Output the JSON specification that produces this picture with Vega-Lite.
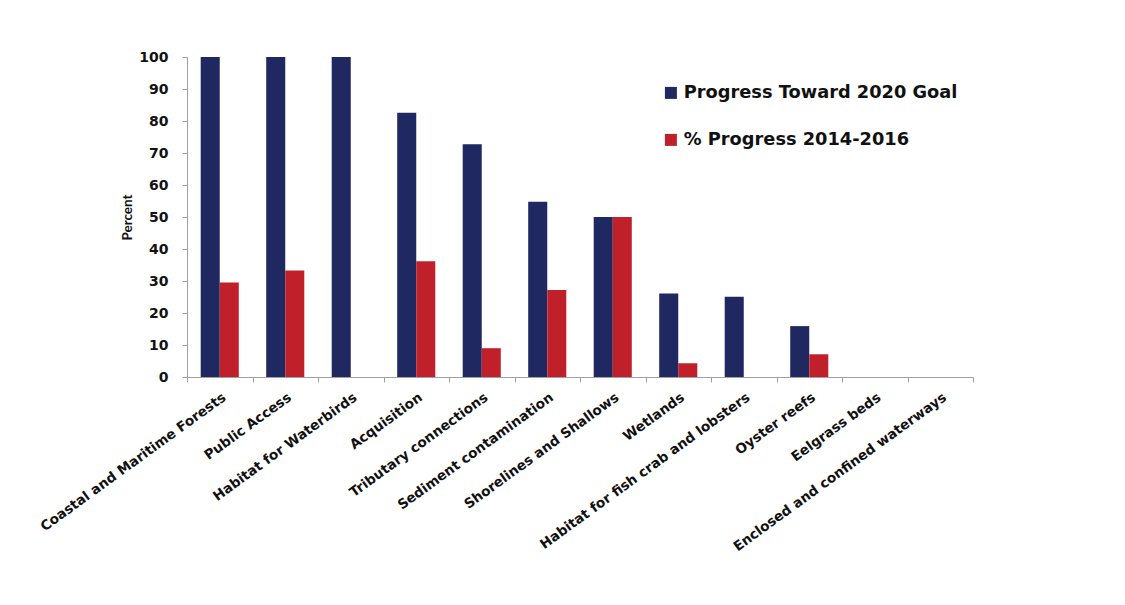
{
  "$schema": "https://vega.github.io/schema/vega-lite/v6.json",
  "autosize": {"type": "none"},
  "padding": {"left": 187, "top": 57, "right": 152, "bottom": 228},
  "width": 786,
  "height": 320,
  "background": "white",
  "data": {
    "values": [
      {"category": "Coastal and Maritime Forests", "series": "Progress Toward 2020 Goal", "value": 100},
      {"category": "Coastal and Maritime Forests", "series": "% Progress 2014-2016", "value": 29.5},
      {"category": "Public Access", "series": "Progress Toward 2020 Goal", "value": 100},
      {"category": "Public Access", "series": "% Progress 2014-2016", "value": 33.3},
      {"category": "Habitat for Waterbirds", "series": "Progress Toward 2020 Goal", "value": 100},
      {"category": "Habitat for Waterbirds", "series": "% Progress 2014-2016", "value": 0},
      {"category": "Acquisition", "series": "Progress Toward 2020 Goal", "value": 82.6},
      {"category": "Acquisition", "series": "% Progress 2014-2016", "value": 36.2},
      {"category": "Tributary connections", "series": "Progress Toward 2020 Goal", "value": 72.7},
      {"category": "Tributary connections", "series": "% Progress 2014-2016", "value": 9.0},
      {"category": "Sediment contamination", "series": "Progress Toward 2020 Goal", "value": 54.8},
      {"category": "Sediment contamination", "series": "% Progress 2014-2016", "value": 27.2},
      {"category": "Shorelines and Shallows", "series": "Progress Toward 2020 Goal", "value": 50},
      {"category": "Shorelines and Shallows", "series": "% Progress 2014-2016", "value": 50},
      {"category": "Wetlands", "series": "Progress Toward 2020 Goal", "value": 26.1},
      {"category": "Wetlands", "series": "% Progress 2014-2016", "value": 4.3},
      {"category": "Habitat for fish crab and lobsters", "series": "Progress Toward 2020 Goal", "value": 25.1},
      {"category": "Habitat for fish crab and lobsters", "series": "% Progress 2014-2016", "value": 0},
      {"category": "Oyster reefs", "series": "Progress Toward 2020 Goal", "value": 15.9},
      {"category": "Oyster reefs", "series": "% Progress 2014-2016", "value": 7.1},
      {"category": "Eelgrass beds", "series": "Progress Toward 2020 Goal", "value": 0},
      {"category": "Eelgrass beds", "series": "% Progress 2014-2016", "value": 0},
      {"category": "Enclosed and confined waterways", "series": "Progress Toward 2020 Goal", "value": 0},
      {"category": "Enclosed and confined waterways", "series": "% Progress 2014-2016", "value": 0}
    ]
  },
  "mark": {"type": "bar"},
  "encoding": {
    "x": {
      "field": "category",
      "type": "nominal",
      "sort": null,
      "scale": {"paddingInner": 0, "paddingOuter": 0},
      "axis": {
        "title": null,
        "labelAngle": -36,
        "labelAlign": "right",
        "labelBaseline": "top",
        "labelFont": "DejaVu Sans",
        "labelFontWeight": "bold",
        "labelFontSize": 13.6,
        "labelColor": "#111111",
        "labelPadding": 8,
        "labelLimit": 300,
        "tickBand": "extent",
        "tickSize": 5,
        "tickColor": "#a0a0a0",
        "domainColor": "#a0a0a0"
      }
    },
    "xOffset": {
      "field": "series",
      "type": "nominal",
      "sort": ["Progress Toward 2020 Goal", "% Progress 2014-2016"],
      "scale": {"paddingInner": 0, "paddingOuter": 0.72}
    },
    "y": {
      "field": "value",
      "type": "quantitative",
      "scale": {"domain": [0, 100], "nice": false},
      "axis": {
        "title": "Percent",
        "titleFont": "Lato",
        "titleFontWeight": "bold",
        "titleFontSize": 13.5,
        "titleColor": "#111111",
        "titlePadding": 4,
        "values": [0, 10, 20, 30, 40, 50, 60, 70, 80, 90, 100],
        "grid": false,
        "labelFont": "DejaVu Sans",
        "labelFontWeight": "bold",
        "labelFontSize": 14,
        "labelColor": "#111111",
        "labelPadding": 14,
        "tickSize": 5,
        "tickColor": "#a0a0a0",
        "domainColor": "#a0a0a0"
      }
    },
    "color": {
      "field": "series",
      "type": "nominal",
      "sort": ["Progress Toward 2020 Goal", "% Progress 2014-2016"],
      "scale": {"domain": ["Progress Toward 2020 Goal", "% Progress 2014-2016"], "range": ["#1f2860", "#c0202a"]},
      "legend": {
        "title": null,
        "orient": "none",
        "legendX": 475,
        "legendY": 27,
        "symbolType": "square",
        "symbolSize": 144,
        "symbolStrokeWidth": 0,
        "labelFont": "DejaVu Sans",
        "labelFontWeight": "bold",
        "labelFontSize": 17.8,
        "labelColor": "#111111",
        "labelLimit": 400,
        "labelOffset": 4,
        "rowPadding": 28
      }
    }
  },
  "config": {"view": {"stroke": null}}
}
